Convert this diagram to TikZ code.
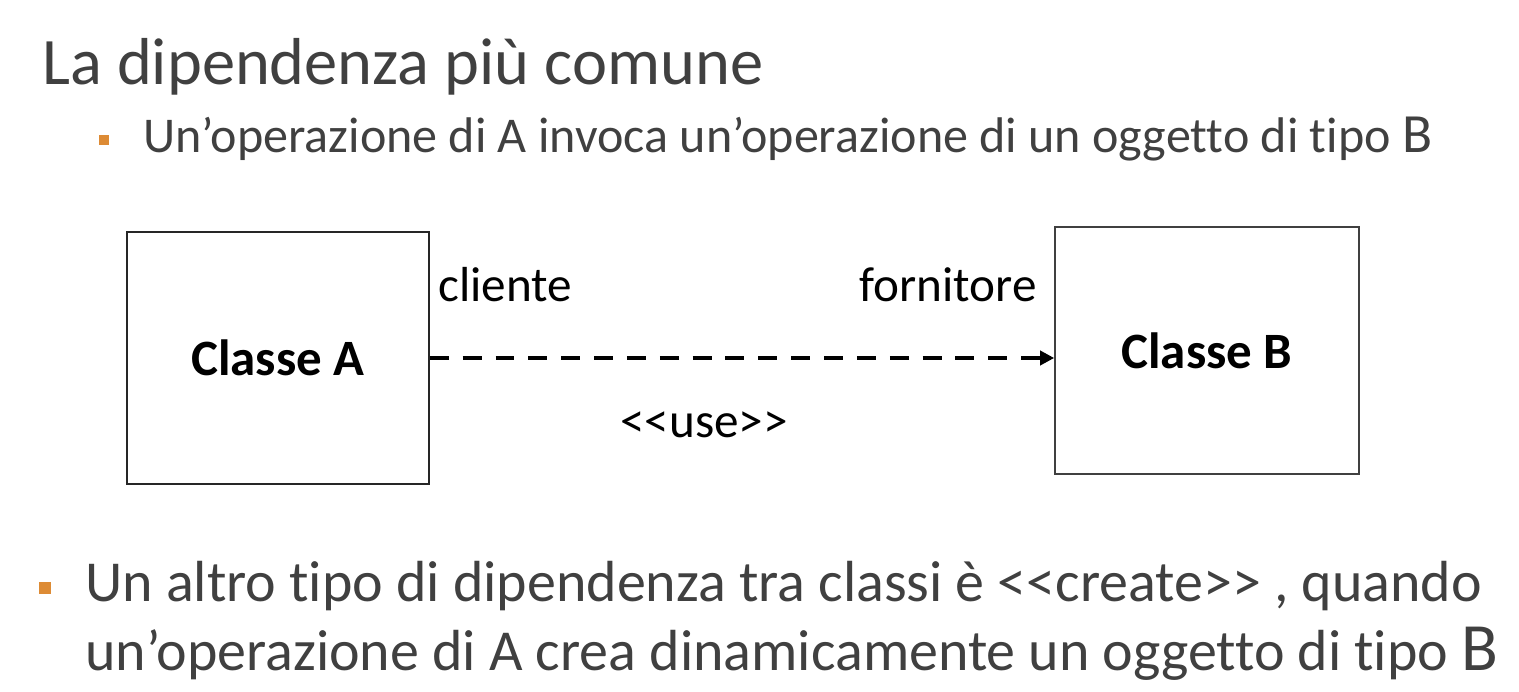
\documentclass[tikz,border=0pt]{standalone}
\usepackage{fontspec}
\setmainfont{Carlito}[Ligatures={NoCommon}]
\usetikzlibrary{arrows.meta}
\definecolor{slidegray}{HTML}{404040}
\definecolor{bulletorange}{HTML}{DD8B35}
\tikzset{
    classbox/.style={draw=black!85, line width=0.9pt, inner sep=0pt, font=\fontsize{29}{34}\selectfont\bfseries},
    rolelabel/.style={font=\fontsize{28}{34}\selectfont, inner sep=0pt},
    bulletsq/.style={fill=bulletorange, minimum size=5.8pt, inner sep=0pt},
    usearrow/.style={line width=2.3pt, dash pattern=on 10.8pt off 7.9pt, -{Triangle[length=8pt,width=8pt]}}
}
\begin{document}
\begin{tikzpicture}[x=0.02cm, y=-0.02cm]
                \useasboundingbox (0, 0) rectangle (1519, 692);

                \node[anchor=base west, inner sep=0pt, text=slidegray, font=\fontsize{37.8}{44}\selectfont] (title) at (42, 85) {La dipendenza più comune};

                \node[bulletsq] (sqone) at (104, 140) {};
                \node[anchor=base west, inner sep=0pt, text=slidegray, font=\fontsize{28.5}{32}\selectfont] (lineone) at (143, 153) {Un’operazione di A invoca un’operazione di un oggetto di tipo {\fontsize{31.5}{32}\selectfont B}};

                \node[classbox, minimum width=302*0.02cm, minimum height=252*0.02cm] (A) at (278, 358) {Classe A};
                \node[classbox, draw=slidegray, minimum width=304*0.02cm, minimum height=247*0.02cm] (B) at (1207, 350.5) {Classe B};

                \node[rolelabel, anchor=base west] (cliente) at (438, 302) {cliente};
                \node[rolelabel, anchor=base east] (fornitore) at (1037, 302) {fornitore};
                \node[rolelabel, anchor=base] (use) at (704, 438) {<\kern0pt<use>\kern0pt>};

                \draw[usearrow] (A.east) -- (A.east -| B.west);

                \node[bulletsq, minimum size=6.4pt] (sqtwo) at (45, 588) {};
                \node[anchor=base west, inner sep=0pt, text=slidegray, font=\fontsize{33}{38}\selectfont] (linetwo) at (85, 602) {Un altro tipo di dipendenza tra classi è <\kern0pt<create>\kern0pt> , quando};
                \node[anchor=base west, inner sep=0pt, text=slidegray, font=\fontsize{33}{38}\selectfont] (linethree) at (85, 670) {un’operazione di A crea dinamicamente un oggetto di tipo {\fontsize{38.5}{40}\selectfont B}};
\end{tikzpicture}
\end{document}
